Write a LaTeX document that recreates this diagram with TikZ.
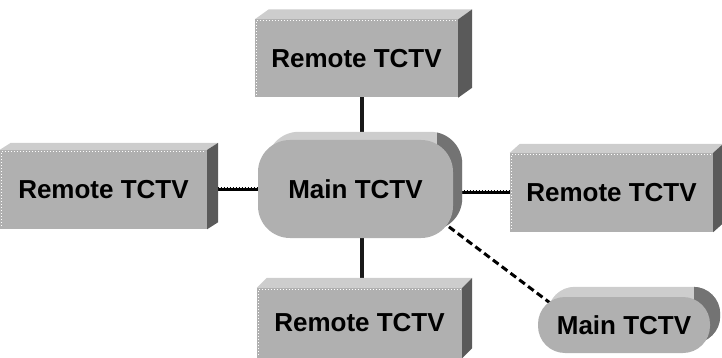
\documentclass[tikz,border=0pt]{standalone}
\usepackage{fontspec}
\setmainfont{Liberation Sans}
\usetikzlibrary{calc}

\definecolor{faceC}{HTML}{B0B0B0}
\definecolor{topC}{HTML}{CDCDCD}
\definecolor{sideC}{HTML}{5A5A5A}

\pgfdeclarelayer{wires}
\pgfdeclarelayer{slabs}
\pgfsetlayers{wires,slabs,main}

\tikzset{
  slabbox/.style={fill=faceC, inner sep=0pt, minimum width=203pt, minimum height=78pt,
    font=\fontsize{26}{30}\selectfont\bfseries},
  pillbox/.style={slabbox, rounded corners=#1},
  tlink/.style={line width=2.4pt, black,
    postaction={draw, line width=2.4pt, dash pattern=on 1.4pt off 1.6pt, transform canvas={yshift=1.8pt}}},
  slink/.style={line width=3.2pt, black!90},
  dlink/.style={line width=3pt, black, dash pattern=on 7pt off 4pt},
  hilite/.style={white, line width=1pt, dash pattern=on 1pt off 2pt},
}

% extruded rectangular box: node, dx, dy (pt, dy upwards)
\newcommand\slabdepth[3]{%
  \begin{pgfonlayer}{slabs}
    \fill[topC] (#1.north west) -- ([shift={(#2pt,#3pt)}]#1.north west)
      -- ([shift={(#2pt,#3pt)}]#1.north east) -- (#1.north east) -- cycle;
    \fill[sideC] (#1.north east) -- ([shift={(#2pt,#3pt)}]#1.north east)
      -- ([shift={(#2pt,#3pt)}]#1.south east) -- (#1.south east) -- cycle;
  \end{pgfonlayer}
  \draw[hilite] ([shift={(2pt,-1.5pt)}]#1.north west) -- ([shift={(-2pt,-1.5pt)}]#1.north east);
  \draw[hilite] ([shift={(1.5pt,-3pt)}]#1.north west) -- ([shift={(1.5pt,3pt)}]#1.south west);
}

% extruded rounded box: node, dx, dy, corner radius
\newcommand\pilldepth[4]{%
  \begin{pgfonlayer}{slabs}
    \fill[topC, rounded corners=#4] ([shift={(#2pt,#3pt)}]#1.south west)
      rectangle ([shift={(#2pt,#3pt)}]#1.north east);
    \begin{scope}
      \clip ([xshift=-16pt]#1.south east) rectangle ([shift={(40pt,40pt)}]#1.north east);
      \fill[sideC!85, rounded corners=#4] ([shift={(#2pt,#3pt)}]#1.south west)
        rectangle ([shift={(#2pt,#3pt)}]#1.north east);
    \end{scope}
  \end{pgfonlayer}
}

\begin{document}
\begin{tikzpicture}[x=1pt, y=-1pt]
  \useasboundingbox (0,0) rectangle (722,358);

  % boxes
  \node[slabbox] (topR) at (356.5,58.5) {Remote TCTV};
  \node[slabbox, minimum width=207pt, minimum height=79pt] (leftR) at (103.5,189.5) {Remote TCTV};
  \node[slabbox, minimum height=79pt] (rightR) at (611.5,192.5) {Remote TCTV};
  \node[slabbox, minimum width=205pt, minimum height=70pt] (botR) at (359.5,323) {Remote TCTV};
  \node[pillbox=32pt, minimum width=195pt, minimum height=98pt] (mainA) at (355.5,189) {Main TCTV};
  \node[pillbox=27pt, minimum width=172pt, minimum height=56pt] (mainB) at (624,325) {Main TCTV};

  \slabdepth{topR}{14}{10}
  \slabdepth{leftR}{11}{7}
  \slabdepth{rightR}{10}{9}
  \slabdepth{botR}{10}{10}
  \pilldepth{mainA}{9}{8}{32pt}
  \pilldepth{mainB}{10}{10}{27pt}

  % connectors
  \begin{pgfonlayer}{wires}
    \draw[slink] ([xshift=5.5pt]topR.center) -- ([xshift=5.5pt]topR.center |- mainA.center);
    \draw[slink] ([xshift=2.5pt]botR.center) -- ([xshift=2.5pt]botR.center |- mainA.center);
    \draw[tlink] (leftR.center) -- (leftR.center -| mainA.center);
    \draw[tlink] (mainA.center |- rightR.center) -- (rightR.center);
    \draw[dlink] ([shift={(-13pt,18pt)}]mainA.south east) -- ([shift={(32pt,-21pt)}]mainB.north west);
  \end{pgfonlayer}
\end{tikzpicture}
\end{document}
